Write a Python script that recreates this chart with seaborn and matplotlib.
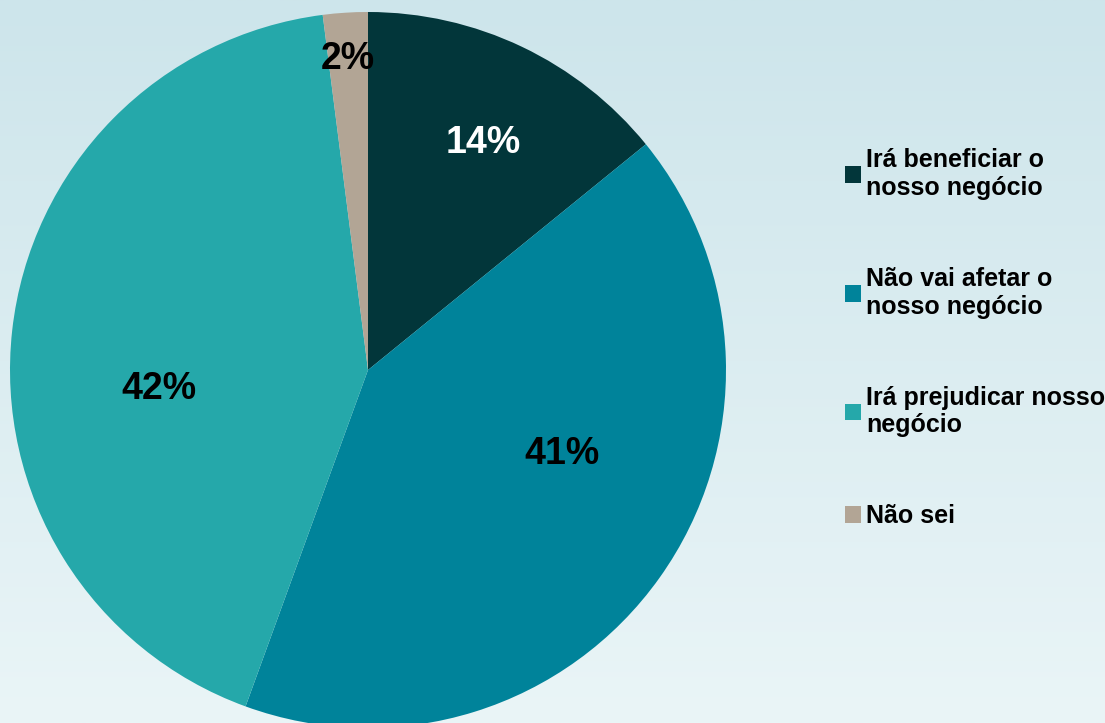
import numpy as np
import matplotlib
matplotlib.use("Agg")
import matplotlib.pyplot as plt
import seaborn as sns

# Survey answers and their shares (%)
categories = [
    "Irá beneficiar o\nnosso negócio",
    "Não vai afetar o\nnosso negócio",
    "Irá prejudicar nosso\nnegócio",
    "Não sei",
]
shares = [14, 41, 42, 2]
slice_colors = ["#02363A", "#00839A", "#25A8AA", "#B2A595"]
label_colors = ["white", "black", "black", "black"]

sns.set_theme(style="white")
plt.rcParams["font.family"] = ["Liberation Sans", "DejaVu Sans"]

W, H = 1105, 723
fig = plt.figure(figsize=(W / 100, H / 100), dpi=100)

# soft vertical gradient behind everything
bg = fig.add_axes([0, 0, 1, 1])
top = np.array([0xCD, 0xE5, 0xEB]) / 255
bot = np.array([0xEA, 0xF5, 0xF7]) / 255
t = np.linspace(0, 1, 256)[:, None]
grad = (top[None, :] * (1 - t) + bot[None, :] * t)[:, None, :]
bg.imshow(grad, aspect="auto", extent=[0, 1, 0, 1])
bg.set_axis_off()

# pie axes: centre (368, 370) px, radius 358 px
cx, cy, r = 368, 370, 358
ax = fig.add_axes([(cx - r) / W, (H - cy - r) / H, 2 * r / W, 2 * r / H])
wedges, texts, autotexts = ax.pie(
    shares,
    colors=slice_colors,
    startangle=90,
    counterclock=False,
    autopct=lambda p: f"{p * sum(shares) / 100:.0f}%",
    pctdistance=0.7,
    wedgeprops=dict(linewidth=0),
    textprops=dict(fontsize=27, fontweight="bold"),
)
ax.set_xlim(-1, 1)
ax.set_ylim(-1, 1)
ax.set_aspect("equal")
ax.set_axis_off()

# fine placement of the percentage labels (radius, angular offset in degrees)
placement = [(0.71, -1.5), (0.59, 12), (0.585, 11.5), (0.87, 0)]
total = sum(shares)
start = 90.0
for w, txt, col, (rad, off) in zip(shares, autotexts, label_colors, placement):
    mid = start - 0.5 * w / total * 360
    start -= w / total * 360
    a = np.deg2rad(mid + off)
    txt.set_position((rad * np.cos(a), rad * np.sin(a)))
    txt.set_color(col)

leg = fig.legend(
    wedges,
    categories,
    loc="upper left",
    bbox_to_anchor=(845 / W, 1 - 148 / H),
    frameon=False,
    prop=dict(weight="bold", size=18),
    handlelength=0.64,
    handleheight=0.64,
    handletextpad=0.2,
    labelspacing=2.68,
    borderaxespad=0,
    borderpad=0,
)
for txt in leg.get_texts():
    txt.set_linespacing(1.2)
    txt.set_color("black")

fig.savefig("out.png", dpi=100)
